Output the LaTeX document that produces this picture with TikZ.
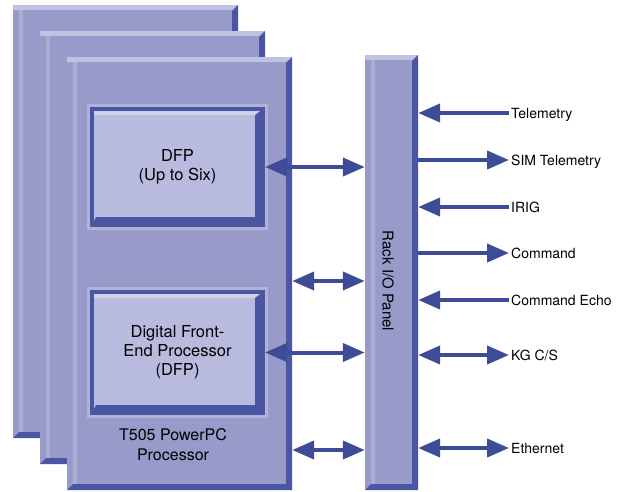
\documentclass[tikz,border=0pt]{standalone}
\usepackage{fontspec}
\setmainfont{TeX Gyre Heros}
\usetikzlibrary{
  arrows.meta,
  positioning
}

\definecolor{boardfill}{RGB}{152,154,202}
\definecolor{boardlight}{RGB}{192,194,226}
\definecolor{boarddark}{RGB}{74,86,162}
\definecolor{dfpfill}{RGB}{184,186,222}
\definecolor{linkblue}{RGB}{62,76,152}

\tikzset{
  board/.style={
    fill=boardfill, inner sep=0pt,
    minimum width=225pt, minimum height=433pt,
    path picture={
      \fill[boardlight]
        (path picture bounding box.north west)
        -- (path picture bounding box.north east)
        -- ([xshift=-6pt,yshift=-5pt]path picture bounding box.north east)
        -- ([yshift=-5pt]path picture bounding box.north west) -- cycle;
      \fill[boardlight, opacity=.45]
        ([xshift=6pt,yshift=-5pt]path picture bounding box.north west)
        rectangle ([xshift=10pt]path picture bounding box.south west);
      \fill[boarddark]
        (path picture bounding box.north east)
        -- (path picture bounding box.south east)
        -- (path picture bounding box.south west)
        -- ([xshift=6pt,yshift=6pt]path picture bounding box.south west)
        -- ([xshift=-6pt,yshift=6pt]path picture bounding box.south east)
        -- ([xshift=-6pt,yshift=-6pt]path picture bounding box.north east)
        -- cycle;
    }
  },
  dfpbox/.style={
    fill=dfpfill, draw=boarddark, line width=4pt, inner sep=0pt,
    minimum width=171pt, minimum height=116pt,
    align=center, font=\fontsize{16.5}{19}\selectfont,
    preaction={draw=boardlight, line width=10pt, opacity=.6},
    path picture={
      \fill[white, opacity=.35]
        (path picture bounding box.north west)
        -- (path picture bounding box.north east)
        -- ([xshift=-7pt,yshift=-6pt]path picture bounding box.north east)
        -- ([yshift=-6pt]path picture bounding box.north west) -- cycle;
      \fill[boarddark]
        (path picture bounding box.north east)
        -- (path picture bounding box.south east)
        -- (path picture bounding box.south west)
        -- ([xshift=4pt,yshift=8pt]path picture bounding box.south west)
        -- ([xshift=-8pt,yshift=8pt]path picture bounding box.south east)
        -- ([xshift=-8pt,yshift=-6pt]path picture bounding box.north east)
        -- cycle;
    }
  },
  boardtext/.style={align=center, inner sep=0pt, font=\fontsize{16}{20}\selectfont},
  sig/.style={anchor=west, inner sep=2pt, text height=10pt, text depth=0pt,
    font=\fontsize{14}{17}\selectfont},
  >={Triangle[length=22pt,width=18pt]},
  link/.style={draw=linkblue, line width=4pt, ->},
  duplex/.style={draw=linkblue, line width=4pt, <->}
}

\begin{document}
\begin{tikzpicture}[x=1pt,y=-1pt]
\useasboundingbox (0,0) rectangle (625,491);

% processor boards, back to front
\node[board] (cpuc) at (125.5,221.5) {};
\node[board] (cpub) at (152.5,247.5) {};
\node[board] (cpu) at (179.5,273.5) {};
\node[dfpbox] (dfpa) at (177.5,167) {DFP\\(Up to Six)};
\node[dfpbox, minimum height=121pt] (dfpb) at (177.5,352.5)
  {Digital Front-\\End Processor\\(DFP)};
\node[boardtext] (cpulabel) at (173,445) {T505 PowerPC\\Processor};

% rack panel
\node[board, minimum width=53pt, minimum height=435pt] (rack) at (391.5,272.5) {};
\node[boardtext, rotate=-90, font=\fontsize{15}{18}\selectfont] (racklabel)
  at (388,281) {Rack I/O Panel};

% board to panel
\coordinate (busa) at (0,281);
\coordinate (busb) at (0,450);
\draw[duplex] (dfpa.east) -- (rack.west |- dfpa.east);
\draw[duplex] (cpu.east |- busa) -- (rack.west |- busa);
\draw[duplex] (dfpb.east) -- (rack.west |- dfpb.east);
\draw[duplex] (cpu.east |- busb) -- (rack.west |- busb);

% external signals
\node[sig] (tel) at (509,113) {Telemetry};
\node[sig] (simtel) at (509,160) {SIM Telemetry};
\node[sig] (irig) at (509,207) {IRIG};
\node[sig] (cmd) at (509,253) {Command};
\node[sig] (echo) at (509,300) {Command Echo};
\node[sig] (kg) at (509,355) {KG C/S};
\node[sig] (eth) at (509,448) {Ethernet};

\draw[link] (tel.west) -- (rack.east |- tel.west);
\draw[link] (rack.east |- simtel.west) -- (simtel.west);
\draw[link] (irig.west) -- (rack.east |- irig.west);
\draw[link] (rack.east |- cmd.west) -- (cmd.west);
\draw[link] (echo.west) -- (rack.east |- echo.west);
\draw[duplex] (rack.east |- kg.west) -- (kg.west);
\draw[duplex] (rack.east |- eth.west) -- (eth.west);
\end{tikzpicture}
\end{document}
